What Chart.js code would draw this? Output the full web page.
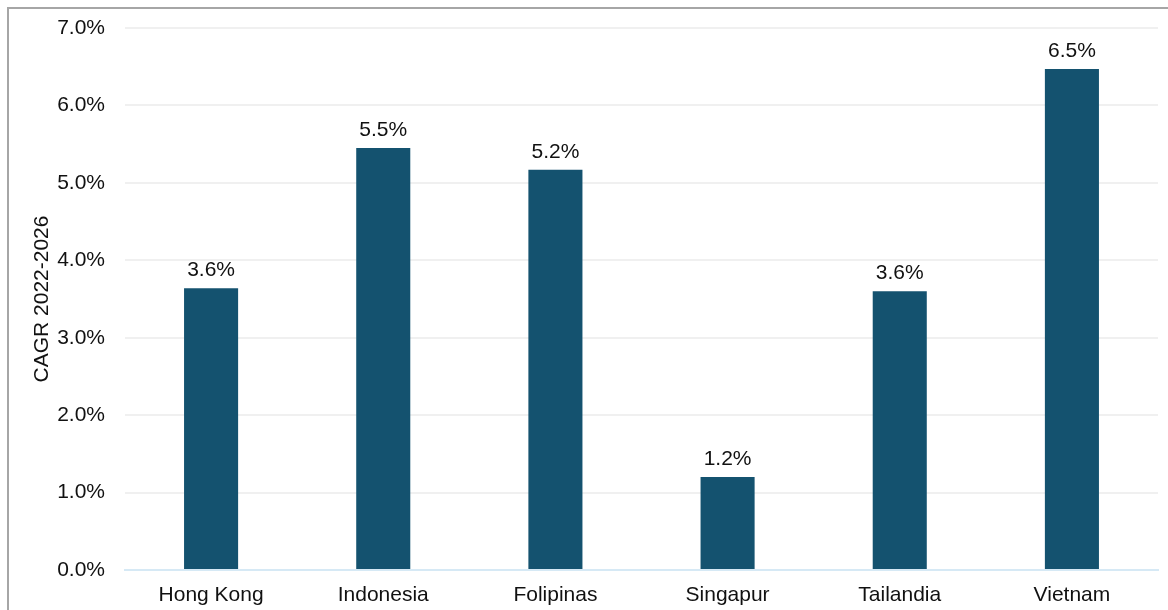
<!DOCTYPE html>
<html>
<head>
<meta charset="utf-8">
<script src="https://cdn.jsdelivr.net/npm/chart.js@4"></script>
<style>
  html, body { margin: 0; padding: 0; background: #fff; }
  #wrap { width: 1168px; height: 610px; position: relative; }
</style>
</head>
<body>
<div id="wrap"><canvas id="cagrChart" width="1168" height="610"></canvas></div>
<script>
// Dados
const paises = ["Hong Kong", "Indonesia", "Folipinas", "Singapur", "Tailandia", "Vietnam"];
const cagr = [3.64, 5.45, 5.17, 1.2, 3.6, 6.47];
const rotulos = ["3.6%", "5.5%", "5.2%", "1.2%", "3.6%", "6.5%"];
const eixoY = { min: 0, max: 7, passo: 1 };

const fonte = "'Liberation Sans', Arial, sans-serif";

// moldura cinzenta à volta do gráfico
const moldura = {
  id: "moldura",
  afterDraw(chart) {
    const c = chart.ctx;
    c.save();
    c.strokeStyle = "#a6a6a6";
    c.lineWidth = 2;
    c.beginPath();
    c.moveTo(8, 610);
    c.lineTo(8, 8);
    c.lineTo(1168, 8);
    c.stroke();
    c.restore();
  }
};

// rótulos por cima das barras
const rotulosBarras = {
  id: "rotulosBarras",
  afterDatasetsDraw(chart) {
    const c = chart.ctx;
    const meta = chart.getDatasetMeta(0);
    c.save();
    c.font = "21px " + fonte;
    c.fillStyle = "#111";
    c.textAlign = "center";
    c.textBaseline = "alphabetic";
    meta.data.forEach((bar, i) => {
      c.fillText(rotulos[i], bar.x, bar.y - 12);
    });
    c.restore();
  }
};

const ctx = document.getElementById("cagrChart").getContext("2d");

new Chart(ctx, {
  type: "bar",
  data: {
    labels: paises,
    datasets: [{
      data: cagr,
      backgroundColor: "#14526f",
      barPercentage: 0.314,
      categoryPercentage: 1
    }]
  },
  options: {
    responsive: false,
    animation: false,
    layout: { padding: { left: 25, right: 10, top: 28, bottom: 3 } },
    plugins: {
      legend: { display: false },
      tooltip: { enabled: false }
    },
    scales: {
      x: {
        afterFit: s => { s.height = 37; },
        grid: { display: false, drawTicks: false },
        border: { display: true, color: "#d6e9f5", width: 2 },
        ticks: { padding: 13, color: "#111", font: { family: fonte, size: 21 } }
      },
      y: {
        min: eixoY.min,
        max: eixoY.max,
        afterFit: s => { s.width = 100; },
        grid: { color: "#f0f0f0", lineWidth: 2, drawTicks: false },
        border: { display: false },
        ticks: {
          stepSize: eixoY.passo,
          padding: 20,
          color: "#111",
          font: { family: fonte, size: 21, lineHeight: 0.5 },
          callback: v => v.toFixed(1) + "%"
        },
        title: {
          display: true,
          text: "CAGR 2022-2026",
          color: "#111",
          padding: 5,
          font: { family: fonte, size: 21 }
        }
      }
    }
  },
  plugins: [moldura, rotulosBarras]
});
</script>
</body>
</html>
